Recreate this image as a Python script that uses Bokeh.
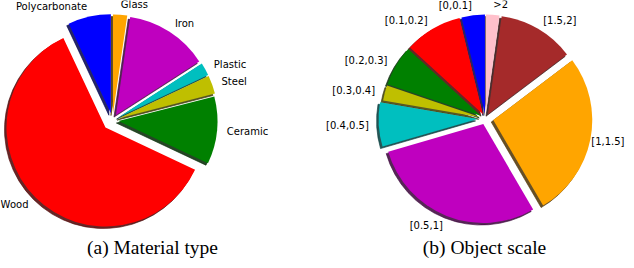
import math
from bokeh.plotting import figure
from bokeh.models import ColumnDataSource, Range1d
from bokeh.core.properties import value
from bokeh.embed import file_html
from bokeh.resources import INLINE

# ---- data -------------------------------------------------------------
material_labels = ["Polycarbonate", "Wood", "Ceramic", "Steel", "Plastic", "Iron", "Glass"]
material_share = [7.0, 61.0, 11.0, 3.0, 2.1, 13.6, 2.3]
material_colors = ["#0000ff", "#ff0000", "#008000", "#bfbf00", "#00bfbf", "#bf00bf", "#ffa500"]
material_explode = [0.075, 0.10, 0.06, 0.07, 0.07, 0.065, 0.07]

scale_labels = ["[0,0.1]", "[0.1,0.2]", "[0.2,0.3]", "[0.3,0.4]", "[0.4,0.5]",
                "[0.5,1]", "[1,1.5]", "[1.5,2]", ">2"]
scale_share = [3.8, 9.4, 6.6, 2.5, 7.2, 28.9, 26.9, 12.5, 2.2]
scale_colors = ["#0000ff", "#ff0000", "#008000", "#bfbf00", "#00bfbf",
                "#bf00bf", "#ffa500", "#a52a2a", "#ffc0cb"]
scale_explode = [0.05, 0.05, 0.05, 0.05, 0.08, 0.06, 0.08, 0.05, 0.05]

captions = ["(a) Material type", "(b) Object scale"]

# ---- layout (pixel-like data units, y up) ------------------------------
W, H = 626, 260
p = figure(width=W, height=H, x_range=Range1d(0, W), y_range=Range1d(0, H),
           output_backend="svg", toolbar_location=None, min_border=0,
           x_axis_location=None, y_axis_location=None)
p.grid.visible = False
p.outline_line_color = None
p.background_fill_color = "white"
p.border_fill_color = "white"

LABEL_W = 6.2  # rough DejaVu Sans 10px advance, used only to keep labels inside


def shade(hexcol, rho=0.3):
    h = hexcol.lstrip("#")
    r, g, b = (int(h[i:i + 2], 16) for i in (0, 2, 4))
    return "#%02x%02x%02x" % (int(r * rho), int(g * rho), int(b * rho))


def build_pie(cx, cy, R, shares, colors, labels, explode):
    total = float(sum(shares))
    wedges = dict(x=[], y=[], s=[], e=[], c=[], sc=[])
    lab_l = dict(x=[], y=[], t=[])
    lab_r = dict(x=[], y=[], t=[])
    theta = 90.0
    for v, col, lab, ex in zip(shares, colors, labels, explode):
        t1 = theta + 360.0 * v / total
        mid = math.radians((theta + t1) / 2.0)
        ox = cx + ex * R * math.cos(mid)
        oy = cy + ex * R * math.sin(mid)
        wedges["x"].append(ox)
        wedges["y"].append(oy)
        wedges["s"].append(math.radians(theta))
        wedges["e"].append(math.radians(t1))
        wedges["c"].append(col)
        wedges["sc"].append(shade(col))
        lx = ox + 1.1 * R * math.cos(mid)
        ly = oy + 1.1 * R * math.sin(mid)
        if math.cos(mid) > 0:
            if lx + LABEL_W * len(lab) > W - 1:
                d = lab_r
                lx = W - 2
            else:
                d = lab_l
        else:
            d = lab_r
        d["x"].append(lx)
        d["y"].append(ly)
        d["t"].append(lab)
        theta = t1
    src = ColumnDataSource(wedges)
    shadow = ColumnDataSource(dict(x=[v - 2 for v in wedges["x"]],
                                   y=[v - 2 for v in wedges["y"]],
                                   s=wedges["s"], e=wedges["e"], sc=wedges["sc"]))
    p.wedge(x="x", y="y", radius=R, start_angle="s", end_angle="e", direction="anticlock",
            source=shadow, fill_color="sc", fill_alpha=0.85, line_color="sc",
            line_alpha=0.6, line_width=1)
    p.wedge(x="x", y="y", radius=R, start_angle="s", end_angle="e", direction="anticlock",
            source=src, fill_color="c", line_color=None)
    for d, al in ((lab_l, "left"), (lab_r, "right")):
        p.text(x="x", y="y", text="t", source=ColumnDataSource(d),
               text_font=value("DejaVu Sans"), text_font_size="10px",
               text_align=al, text_baseline="middle", text_color="black")


# reference pixel (x, y_down) -> data (x, H - y)
build_pie(112, H - 120, 99, material_share, material_colors, material_labels, material_explode)
build_pie(485, H - 118, 99, scale_share, scale_colors, scale_labels, scale_explode)

cap = ColumnDataSource(dict(x=[152, 484], y=[H - 247, H - 247], t=captions))
p.text(x="x", y="y", text="t", source=cap, text_font=value("Liberation Serif"),
       text_font_size="19.5px", text_align="center", text_baseline="alphabetic",
       text_color="black")

open("out.html", "w").write(file_html(p, INLINE))
